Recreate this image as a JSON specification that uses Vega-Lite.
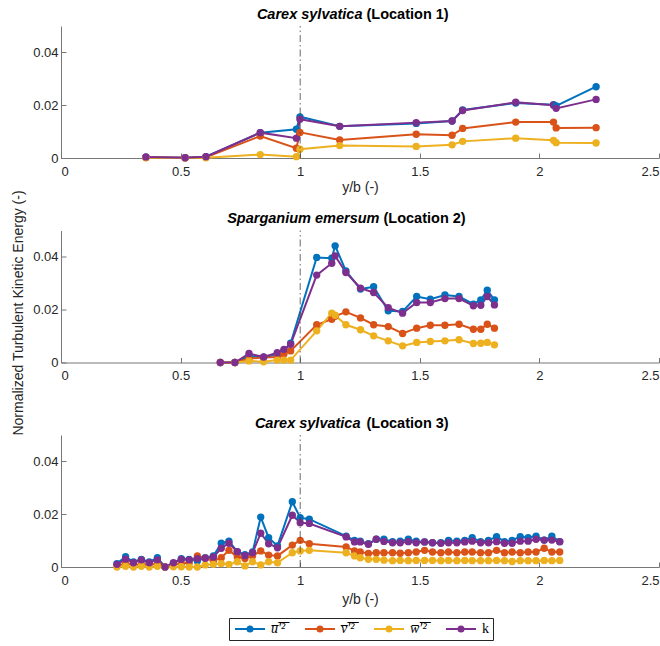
{
  "$schema": "https://vega.github.io/schema/vega-lite/v6.json",
  "background": "white",
  "padding": {"left": 11, "top": 6, "right": 0, "bottom": 5},
  "spacing": 72.5,
  "bounds": "flush",
  "datasets": {
    "p1": [
      {"x": 0.355, "u": 0.0003, "v": 0.0002, "w": 0.0001, "k": 0.0004},
      {"x": 0.519, "u": 0.0001, "v": 0.0001, "w": 0.0, "k": 0.0001},
      {"x": 0.606, "u": 0.0005, "v": 0.0003, "w": 0.0001, "k": 0.0005},
      {"x": 0.833, "u": 0.0096, "v": 0.0083, "w": 0.0013, "k": 0.0096},
      {"x": 0.984, "u": 0.0109, "v": 0.0037, "w": 0.0005, "k": 0.0075},
      {"x": 0.999, "u": 0.0156, "v": 0.0097, "w": 0.0033, "k": 0.0147},
      {"x": 1.165, "u": 0.012, "v": 0.0068, "w": 0.0047, "k": 0.012},
      {"x": 1.485, "u": 0.0131, "v": 0.009, "w": 0.0044, "k": 0.0134},
      {"x": 1.635, "u": 0.014, "v": 0.0086, "w": 0.005, "k": 0.014},
      {"x": 1.679, "u": 0.0182, "v": 0.0112, "w": 0.0063, "k": 0.018},
      {"x": 1.901, "u": 0.0208, "v": 0.0136, "w": 0.0075, "k": 0.0211},
      {"x": 2.059, "u": 0.0202, "v": 0.0136, "w": 0.0067, "k": 0.02},
      {"x": 2.07, "u": 0.0197, "v": 0.0114, "w": 0.0058, "k": 0.0188},
      {"x": 2.237, "u": 0.027, "v": 0.0115, "w": 0.0057, "k": 0.0222}
    ],
    "p2": [
      {"x": 0.666, "u": 0.0, "v": 0.0, "w": 0.0, "k": 0.0},
      {"x": 0.727, "u": 0.0, "v": 0.0, "w": 0.0, "k": 0.0},
      {"x": 0.786, "u": 0.0025, "v": 0.0015, "w": 0.0006, "k": 0.0034},
      {"x": 0.847, "u": 0.002, "v": 0.0019, "w": 0.0003, "k": 0.0021},
      {"x": 0.904, "u": 0.003, "v": 0.0021, "w": 0.0009, "k": 0.0037},
      {"x": 0.932, "u": 0.0044, "v": 0.0032, "w": 0.0009, "k": 0.005},
      {"x": 0.96, "u": 0.0073, "v": 0.0044, "w": 0.0009, "k": 0.0069},
      {"x": 1.069, "u": 0.0398, "v": 0.0143, "w": 0.012, "k": 0.0331},
      {"x": 1.132, "u": 0.0395, "v": 0.0164, "w": 0.0187, "k": 0.0376},
      {"x": 1.146, "u": 0.0442, "v": 0.0175, "w": 0.0179, "k": 0.0404},
      {"x": 1.191, "u": 0.0347, "v": 0.0192, "w": 0.0143, "k": 0.0341},
      {"x": 1.252, "u": 0.0278, "v": 0.0169, "w": 0.0124, "k": 0.0282},
      {"x": 1.307, "u": 0.0287, "v": 0.0143, "w": 0.0101, "k": 0.0265},
      {"x": 1.368, "u": 0.0196, "v": 0.0136, "w": 0.0082, "k": 0.0208},
      {"x": 1.428, "u": 0.0193, "v": 0.011, "w": 0.0063, "k": 0.0187},
      {"x": 1.487, "u": 0.025, "v": 0.013, "w": 0.0076, "k": 0.0227},
      {"x": 1.544, "u": 0.024, "v": 0.0141, "w": 0.008, "k": 0.0227},
      {"x": 1.605, "u": 0.0256, "v": 0.0141, "w": 0.0082, "k": 0.0242},
      {"x": 1.664, "u": 0.025, "v": 0.0145, "w": 0.0086, "k": 0.0242},
      {"x": 1.724, "u": 0.0221, "v": 0.0126, "w": 0.0072, "k": 0.0215},
      {"x": 1.755, "u": 0.0237, "v": 0.0126, "w": 0.0073, "k": 0.0217},
      {"x": 1.782, "u": 0.0274, "v": 0.0145, "w": 0.0076, "k": 0.025},
      {"x": 1.812, "u": 0.0237, "v": 0.013, "w": 0.0067, "k": 0.0218}
    ],
    "p3": [
      {"x": 0.234, "u": 0.0013, "v": 0.0004, "w": 0.0, "k": 0.001},
      {"x": 0.27, "u": 0.0039, "v": 0.0013, "w": 0.0003, "k": 0.003},
      {"x": 0.303, "u": 0.0019, "v": 0.0008, "w": 0.0, "k": 0.0016},
      {"x": 0.336, "u": 0.0029, "v": 0.001, "w": 0.0003, "k": 0.0027},
      {"x": 0.369, "u": 0.0019, "v": 0.0008, "w": 0.0, "k": 0.0016},
      {"x": 0.403, "u": 0.0035, "v": 0.0013, "w": 0.0003, "k": 0.0027},
      {"x": 0.435, "u": 0.0, "v": 0.0, "w": 0.0, "k": 0.0},
      {"x": 0.47, "u": 0.0014, "v": 0.0008, "w": 0.0001, "k": 0.0016},
      {"x": 0.503, "u": 0.0032, "v": 0.0013, "w": 0.0001, "k": 0.0029},
      {"x": 0.536, "u": 0.0029, "v": 0.0016, "w": 0.0, "k": 0.0027},
      {"x": 0.57, "u": 0.0023, "v": 0.0042, "w": 0.0, "k": 0.0032},
      {"x": 0.603, "u": 0.0035, "v": 0.0033, "w": 0.0008, "k": 0.0033},
      {"x": 0.637, "u": 0.0042, "v": 0.0023, "w": 0.001, "k": 0.0038},
      {"x": 0.67, "u": 0.009, "v": 0.0035, "w": 0.0013, "k": 0.0071},
      {"x": 0.702, "u": 0.0098, "v": 0.0063, "w": 0.001, "k": 0.009},
      {"x": 0.737, "u": 0.0058, "v": 0.0039, "w": 0.002, "k": 0.0058},
      {"x": 0.769, "u": 0.0047, "v": 0.0032, "w": 0.0004, "k": 0.0043},
      {"x": 0.801, "u": 0.0057, "v": 0.0042, "w": 0.002, "k": 0.0054},
      {"x": 0.835, "u": 0.0189, "v": 0.0061, "w": 0.0008, "k": 0.0128},
      {"x": 0.868, "u": 0.0111, "v": 0.0045, "w": 0.002, "k": 0.0088},
      {"x": 0.905, "u": 0.008, "v": 0.0042, "w": 0.0016, "k": 0.0073},
      {"x": 0.967, "u": 0.0247, "v": 0.0083, "w": 0.0054, "k": 0.0196},
      {"x": 1.0, "u": 0.0187, "v": 0.0101, "w": 0.0061, "k": 0.0168},
      {"x": 1.038, "u": 0.0181, "v": 0.0088, "w": 0.0063, "k": 0.0165},
      {"x": 1.192, "u": 0.0117, "v": 0.0076, "w": 0.0054, "k": 0.0114},
      {"x": 1.227, "u": 0.0101, "v": 0.0061, "w": 0.0042, "k": 0.0095},
      {"x": 1.251, "u": 0.0098, "v": 0.0057, "w": 0.0035, "k": 0.0095},
      {"x": 1.285, "u": 0.0088, "v": 0.0051, "w": 0.0029, "k": 0.0086},
      {"x": 1.318, "u": 0.0105, "v": 0.0054, "w": 0.0029, "k": 0.0105},
      {"x": 1.35, "u": 0.0105, "v": 0.0054, "w": 0.0026, "k": 0.0097},
      {"x": 1.386, "u": 0.0096, "v": 0.0054, "w": 0.0024, "k": 0.0092},
      {"x": 1.418, "u": 0.0098, "v": 0.0052, "w": 0.0025, "k": 0.0092},
      {"x": 1.452, "u": 0.0105, "v": 0.0054, "w": 0.0024, "k": 0.0096},
      {"x": 1.485, "u": 0.0098, "v": 0.0057, "w": 0.0025, "k": 0.0092},
      {"x": 1.52, "u": 0.0095, "v": 0.0063, "w": 0.0025, "k": 0.0095},
      {"x": 1.553, "u": 0.0092, "v": 0.0057, "w": 0.0025, "k": 0.0092},
      {"x": 1.588, "u": 0.0092, "v": 0.0054, "w": 0.0024, "k": 0.009},
      {"x": 1.62, "u": 0.0101, "v": 0.0057, "w": 0.0025, "k": 0.0092},
      {"x": 1.655, "u": 0.0098, "v": 0.0054, "w": 0.0024, "k": 0.0092},
      {"x": 1.688, "u": 0.0101, "v": 0.0057, "w": 0.0025, "k": 0.0095},
      {"x": 1.719, "u": 0.0111, "v": 0.0057, "w": 0.0024, "k": 0.0098},
      {"x": 1.754, "u": 0.0096, "v": 0.0054, "w": 0.0024, "k": 0.0092},
      {"x": 1.787, "u": 0.0101, "v": 0.0054, "w": 0.0024, "k": 0.0092},
      {"x": 1.821, "u": 0.0115, "v": 0.0063, "w": 0.0025, "k": 0.0096},
      {"x": 1.854, "u": 0.0096, "v": 0.0054, "w": 0.0024, "k": 0.009},
      {"x": 1.886, "u": 0.0101, "v": 0.0057, "w": 0.0021, "k": 0.009},
      {"x": 1.92, "u": 0.0115, "v": 0.0054, "w": 0.0024, "k": 0.0098},
      {"x": 1.953, "u": 0.0111, "v": 0.0057, "w": 0.0024, "k": 0.0098},
      {"x": 1.986, "u": 0.0117, "v": 0.0057, "w": 0.0024, "k": 0.0105},
      {"x": 2.02, "u": 0.0102, "v": 0.0071, "w": 0.0025, "k": 0.0102},
      {"x": 2.052, "u": 0.0117, "v": 0.0057, "w": 0.0024, "k": 0.0102},
      {"x": 2.085, "u": 0.0096, "v": 0.0057, "w": 0.0025, "k": 0.0096}
    ]
  },
  "vconcat": [
    {
      "width": 598, "height": 132,
      "layer": [
        {
          "data": {"name": "p1"},
          "transform": [{"fold": ["u", "v", "w", "k"], "as": ["s", "val"]}],
          "encoding": {
            "x": {"field": "x", "type": "quantitative", "scale": {"domain": [0, 2.5], "nice": false}, "axis": {"orient": "bottom", "values": [0, 0.5, 1, 1.5, 2, 2.5], "format": "~g", "title": "y/b (-)", "titlePadding": 2}},
            "y": {"field": "val", "type": "quantitative", "scale": {"domain": [0, 0.05], "nice": false}, "axis": {"values": [0, 0.02, 0.04], "format": "~g", "title": null}},
            "color": {"field": "s", "type": "nominal", "scale": {"domain": ["u", "v", "w", "k"], "range": ["#0072BD", "#D95319", "#EDB120", "#7E2F8E"]},
              "legend": {"orient": "none", "legendX": 168, "legendY": 592, "direction": "horizontal", "title": null,
                "labelExpr": "datum.value === 'u' ? 'u\u0305\u2032\u0305\u00b2\u0305' : datum.value === 'v' ? 'v\u0305\u2032\u0305\u00b2\u0305' : datum.value === 'w' ? 'w\u0305\u2032\u0305\u00b2\u0305' : 'k'",
                "encode": {"labels": {"update": {"fontStyle": {"signal": "datum.value === 'k' ? 'normal' : 'italic'"}}}}}}
          },
          "layer": [
            {"mark": {"type": "line", "strokeWidth": 2}},
            {"mark": {"type": "circle", "size": 54, "opacity": 1}}
          ]
        },
        {
          "data": {"values": [{}]},
          "mark": {"type": "rule", "color": "#444444", "strokeWidth": 0.8, "strokeDash": [7, 3, 1.5, 3]},
          "encoding": {
            "x": {"datum": 1, "type": "quantitative", "axis": {"orient": "top", "domain": false, "ticks": false, "labels": false, "grid": false, "title": "Carex sylvatica", "titleFontStyle": "italic", "titleFontWeight": "bold", "titleFontSize": 14.5, "titleColor": "#000000", "titleAlign": "right", "titleBaseline": "alphabetic", "titleX": 301, "titleY": -8}},
            "y": {"datum": 0, "type": "quantitative", "axis": {"orient": "right", "domain": false, "ticks": false, "labels": false, "grid": false, "title": "(Location 1)", "titleAngle": 0, "titleFontWeight": "bold", "titleFontSize": 14.5, "titleColor": "#000000", "titleAlign": "left", "titleBaseline": "alphabetic", "titleX": -293, "titleY": -8}},
            "y2": {"datum": 0.05}
          }
        }
      ],
      "resolve": {"axis": {"x": "independent", "y": "independent"}}
    },
    {
      "width": 598, "height": 132,
      "layer": [
        {
          "data": {"name": "p2"},
          "transform": [{"fold": ["u", "v", "w", "k"], "as": ["s", "val"]}],
          "encoding": {
            "x": {"field": "x", "type": "quantitative", "scale": {"domain": [0, 2.5], "nice": false}, "axis": {"orient": "bottom", "values": [0, 0.5, 1, 1.5, 2, 2.5], "format": "~g", "title": null}},
            "y": {"field": "val", "type": "quantitative", "scale": {"domain": [0, 0.05], "nice": false}, "axis": {"values": [0, 0.02, 0.04], "format": "~g", "title": "Normalized Turbulent Kinetic Energy (-)", "titlePadding": 7, "titleY": 82}},
            "color": {"field": "s", "type": "nominal", "scale": {"domain": ["u", "v", "w", "k"], "range": ["#0072BD", "#D95319", "#EDB120", "#7E2F8E"]},
              "legend": {"orient": "none", "legendX": 168, "legendY": 592, "direction": "horizontal", "title": null,
                "labelExpr": "datum.value === 'u' ? 'u\u0305\u2032\u0305\u00b2\u0305' : datum.value === 'v' ? 'v\u0305\u2032\u0305\u00b2\u0305' : datum.value === 'w' ? 'w\u0305\u2032\u0305\u00b2\u0305' : 'k'",
                "encode": {"labels": {"update": {"fontStyle": {"signal": "datum.value === 'k' ? 'normal' : 'italic'"}}}}}}
          },
          "layer": [
            {"mark": {"type": "line", "strokeWidth": 2}},
            {"mark": {"type": "circle", "size": 54, "opacity": 1}}
          ]
        },
        {
          "data": {"values": [{}]},
          "mark": {"type": "rule", "color": "#444444", "strokeWidth": 0.8, "strokeDash": [7, 3, 1.5, 3]},
          "encoding": {
            "x": {"datum": 1, "type": "quantitative", "axis": {"orient": "top", "domain": false, "ticks": false, "labels": false, "grid": false, "title": "Sparganium emersum", "titleFontStyle": "italic", "titleFontWeight": "bold", "titleFontSize": 14.5, "titleColor": "#000000", "titleAlign": "right", "titleBaseline": "alphabetic", "titleX": 318, "titleY": -8}},
            "y": {"datum": 0, "type": "quantitative", "axis": {"orient": "right", "domain": false, "ticks": false, "labels": false, "grid": false, "title": "(Location 2)", "titleAngle": 0, "titleFontWeight": "bold", "titleFontSize": 14.5, "titleColor": "#000000", "titleAlign": "left", "titleBaseline": "alphabetic", "titleX": -276, "titleY": -8}},
            "y2": {"datum": 0.05}
          }
        }
      ],
      "resolve": {"axis": {"x": "independent", "y": "independent"}}
    },
    {
      "width": 598, "height": 132,
      "layer": [
        {
          "data": {"name": "p3"},
          "transform": [{"fold": ["u", "v", "w", "k"], "as": ["s", "val"]}],
          "encoding": {
            "x": {"field": "x", "type": "quantitative", "scale": {"domain": [0, 2.5], "nice": false}, "axis": {"orient": "bottom", "values": [0, 0.5, 1, 1.5, 2, 2.5], "format": "~g", "title": "y/b (-)", "titlePadding": 5}},
            "y": {"field": "val", "type": "quantitative", "scale": {"domain": [0, 0.05], "nice": false}, "axis": {"values": [0, 0.02, 0.04], "format": "~g", "title": null}},
            "color": {"field": "s", "type": "nominal", "scale": {"domain": ["u", "v", "w", "k"], "range": ["#0072BD", "#D95319", "#EDB120", "#7E2F8E"]},
              "legend": {"orient": "none", "legendX": 168, "legendY": 592, "direction": "horizontal", "title": null,
                "labelExpr": "datum.value === 'u' ? 'u\u0305\u2032\u0305\u00b2\u0305' : datum.value === 'v' ? 'v\u0305\u2032\u0305\u00b2\u0305' : datum.value === 'w' ? 'w\u0305\u2032\u0305\u00b2\u0305' : 'k'",
                "encode": {"labels": {"update": {"fontStyle": {"signal": "datum.value === 'k' ? 'normal' : 'italic'"}}}}}}
          },
          "layer": [
            {"mark": {"type": "line", "strokeWidth": 2}},
            {"mark": {"type": "circle", "size": 54, "opacity": 1}}
          ]
        },
        {
          "data": {"values": [{}]},
          "mark": {"type": "rule", "color": "#444444", "strokeWidth": 0.8, "strokeDash": [7, 3, 1.5, 3]},
          "encoding": {
            "x": {"datum": 1, "type": "quantitative", "axis": {"orient": "top", "domain": false, "ticks": false, "labels": false, "grid": false, "title": "Carex sylvatica", "titleFontStyle": "italic", "titleFontWeight": "bold", "titleFontSize": 14.5, "titleColor": "#000000", "titleAlign": "right", "titleBaseline": "alphabetic", "titleX": 299, "titleY": -8}},
            "y": {"datum": 0, "type": "quantitative", "axis": {"orient": "right", "domain": false, "ticks": false, "labels": false, "grid": false, "title": "(Location 3)", "titleAngle": 0, "titleFontWeight": "bold", "titleFontSize": 14.5, "titleColor": "#000000", "titleAlign": "left", "titleBaseline": "alphabetic", "titleX": -293, "titleY": -8}},
            "y2": {"datum": 0.05}
          }
        }
      ],
      "resolve": {"axis": {"x": "independent", "y": "independent"}}
    }
  ],
  "config": {
    "view": {"stroke": null},
    "font": "Liberation Sans",
    "axis": {
      "labelFont": "Liberation Sans", "titleFont": "Liberation Sans",
      "labelFontSize": 13, "titleFontSize": 14, "titleFontWeight": "normal",
      "labelColor": "#262626", "titleColor": "#262626",
      "domainColor": "#777777", "tickColor": "#777777", "domainWidth": 1, "tickWidth": 1,
      "tickSize": -5, "grid": false
    },
    "axisX": {"labelPadding": 12},
    "axisY": {"labelPadding": 8},
    "legend": {
      "strokeColor": "#262626", "fillColor": "white", "padding": 4,
      "symbolType": "M-1,0H5M2.5,0A0.5,0.5,0,1,1,1.5,0A0.5,0.5,0,1,1,2.5,0",
      "symbolSize": 100, "symbolStrokeWidth": 2,
      "labelFont": "Liberation Serif", "labelFontSize": 14, "labelColor": "#000000",
      "labelOffset": 24, "columnPadding": 15
    }
  }
}
